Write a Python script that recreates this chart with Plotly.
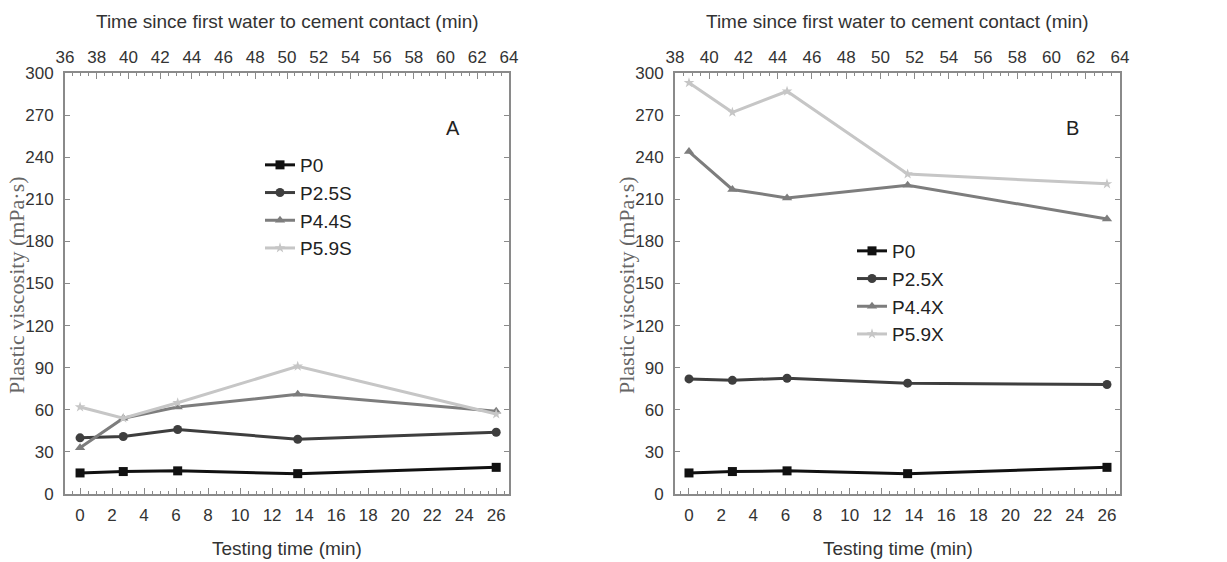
import plotly.graph_objects as go

# Testing time after first measurement (min)
testing_time = [0, 2.7, 6.1, 13.6, 26.0]

# Plastic viscosity (mPa·s), panel A (S series)
p0_a = [15, 16, 16.5, 14.5, 19]
p25s = [40, 41, 46, 39, 44]
p44s = [33, 54, 62, 71, 59]
p59s = [62, 54, 65, 91, 57]

# Plastic viscosity (mPa·s), panel B (X series)
p0_b = [15, 16, 16.5, 14.5, 19]
p25x = [82, 81, 82.5, 79, 78]
p44x = [244, 217, 211, 220, 196]
p59x = [293, 272, 287, 228, 221]

names_a = ["P0", "P2.5S", "P4.4S", "P5.9S"]
names_b = ["P0", "P2.5X", "P4.4X", "P5.9X"]
series_a = [p0_a, p25s, p44s, p59s]
series_b = [p0_b, p25x, p44x, p59x]

colors = ["#111111", "#3e3e3e", "#7d7d7d", "#c6c6c6"]
symbols = ["square", "circle", "triangle-up", "star"]
msizes = [9, 9, 9, 8]

W, H = 1227, 562
FONT = "Liberation Sans, Arial, sans-serif"
SERIF = "Liberation Serif, Times New Roman, serif"
FRAME = "#8a8a8a"
TXT = "#333333"


def px(x):
    return x / W


def py(y):
    return 1 - y / H


fig = go.Figure()

for names, series, xa, ya, lg in [
    (names_a, series_a, "x", "y", "legend"),
    (names_b, series_b, "x3", "y2", "legend2"),
]:
    for name, vals, c, s, ms in zip(names, series, colors, symbols, msizes):
        fig.add_trace(go.Scatter(
            x=testing_time, y=vals, name=name, mode="lines+markers",
            line=dict(color=c, width=3),
            marker=dict(symbol=s, size=ms, color=c),
            xaxis=xa, yaxis=ya, legend=lg,
        ))

# empty traces so the top (contact-time) axes are drawn
fig.add_trace(go.Scatter(x=[36, 64], y=[None, None], xaxis="x2", yaxis="y",
                         showlegend=False, hoverinfo="skip"))
fig.add_trace(go.Scatter(x=[38, 64], y=[None, None], xaxis="x4", yaxis="y2",
                         showlegend=False, hoverinfo="skip"))

y_dom = [py(494), py(73)]
dom_a = [px(65), px(509)]
dom_b = [px(675), px(1120)]

tickfont = dict(family=FONT, size=17, color=TXT)


def bottom_axis(domain, rng, anchor):
    return dict(
        domain=domain, range=rng, anchor=anchor, automargin=False,
        tickmode="linear", tick0=0, dtick=2,
        ticks="inside", ticklen=6, tickwidth=1, tickcolor=FRAME,
        minor=dict(ticks="inside", ticklen=3, dtick=0.5, tickcolor=FRAME),
        showline=True, linecolor=FRAME, linewidth=2, mirror=True,
        showgrid=False, zeroline=False, tickfont=tickfont,
        ticklabelstandoff=5,
    )


def top_axis(rng, overlay):
    return dict(
        overlaying=overlay, side="top", range=rng, automargin=False,
        tickmode="linear", tick0=36, dtick=2,
        ticks="inside", ticklen=6, tickwidth=1, tickcolor=FRAME,
        minor=dict(ticks="inside", ticklen=3, dtick=0.5, tickcolor=FRAME),
        showline=True, linecolor=FRAME, linewidth=2,
        showgrid=False, zeroline=False, tickfont=tickfont,
        ticklabelstandoff=1,
    )


def y_axis(anchor):
    return dict(
        domain=y_dom, range=[0, 300], anchor=anchor, automargin=False,
        tickmode="linear", tick0=0, dtick=30,
        ticks="inside", ticklen=5, tickwidth=1, tickcolor=FRAME,
        showline=True, linecolor=FRAME, linewidth=2, mirror="ticks",
        showgrid=False, zeroline=False, tickfont=tickfont,
        ticklabelstandoff=6,
    )


legend_common = dict(
    font=dict(family=FONT, size=19, color="#222222"),
    bgcolor="rgba(0,0,0,0)", borderwidth=0,
    xanchor="left", yanchor="top", tracegroupgap=0,
)

fig.update_layout(
    width=W, height=H, autosize=False,
    margin=dict(l=0, r=0, t=0, b=0, pad=0, autoexpand=False),
    paper_bgcolor="white", plot_bgcolor="white",
    xaxis=bottom_axis(dom_a, [-0.94, 26.8], "y"),
    xaxis2=top_axis([36, 64], "x"),
    xaxis3=bottom_axis(dom_b, [-0.87, 26.81], "y2"),
    xaxis4=top_axis([38, 64], "x3"),
    yaxis=y_axis("x"),
    yaxis2=y_axis("x3"),
    legend=dict(x=px(260), y=py(146), **legend_common),
    legend2=dict(x=px(852), y=py(232), **legend_common),
    showlegend=True,
)

ann = []
for cx in [(65 + 509) / 2, (675 + 1120) / 2]:
    ann.append(dict(x=px(cx), y=py(22), xref="paper", yref="paper",
                    xanchor="center", yanchor="middle",
                    text="Time since first water to cement contact (min)",
                    showarrow=False, font=dict(family=FONT, size=19, color=TXT)))
    ann.append(dict(x=px(cx), y=py(548), xref="paper", yref="paper",
                    xanchor="center", yanchor="middle",
                    text="Testing time (min)", showarrow=False,
                    font=dict(family=FONT, size=19, color=TXT)))
for x0, letter, lx in [(16, "A", 453), (626, "B", 1072)]:
    ann.append(dict(x=px(x0), y=py(285), xref="paper", yref="paper",
                    xanchor="center", yanchor="middle",
                    text="Plastic viscosity (mPa·s)", textangle=-90,
                    showarrow=False, font=dict(family=SERIF, size=22, color="#666666")))
    ann.append(dict(x=px(lx), y=py(128), xref="paper", yref="paper",
                    xanchor="center", yanchor="middle",
                    text=letter, showarrow=False,
                    font=dict(family=FONT, size=20, color="#222222")))
fig.update_layout(annotations=ann)

fig.write_html("out.html")
